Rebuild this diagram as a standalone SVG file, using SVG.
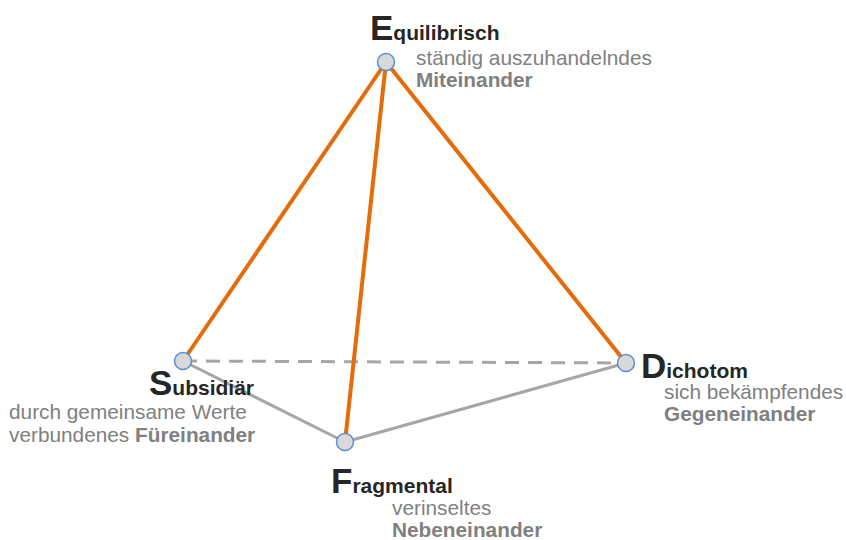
<svg xmlns="http://www.w3.org/2000/svg" width="846" height="540" viewBox="0 0 846 540">
<style>
text{font-family:"Liberation Sans",Arial,sans-serif}
.t{font-weight:bold;fill:#262626;font-size:21px}
.big{font-size:35px}
.d{fill:#808080;font-size:20.8px}
.b{font-weight:bold}
.o{stroke:#e46c0a;stroke-width:4;fill:none;stroke-linecap:round}
.g{stroke:#a6a6a6;stroke-width:3;fill:none}
.n{fill:#d9d9d9;stroke:#5b8ed0;stroke-width:1.5}
</style>
<rect width="846" height="540" fill="#ffffff"/>
<g id="connectors">
<line class="g" x1="183" y1="361" x2="626" y2="363" stroke-dasharray="14,9"/>
<line class="g" x1="183" y1="361" x2="345" y2="442"/>
<line class="g" x1="345" y1="442" x2="626" y2="363"/>
<line class="o" x1="386" y1="62" x2="183" y2="361"/>
<line class="o" x1="386" y1="62" x2="345" y2="442"/>
<line class="o" x1="386" y1="62" x2="626" y2="363"/>
</g>
<g id="node-E">
<circle class="n" cx="386" cy="62" r="8.5"/>
<text class="t" x="370" y="40"><tspan class="big">E</tspan>quilibrisch</text>
<text class="d" x="416" y="65">ständig auszuhandelndes</text>
<text class="d b" x="416" y="87">Miteinander</text>
</g>
<g id="node-S">
<circle class="n" cx="183" cy="361" r="8.5"/>
<text class="t" x="149" y="395"><tspan class="big">S</tspan>ubsidiär</text>
<text class="d" x="9" y="419">durch gemeinsame Werte</text>
<text class="d" x="9" y="442">verbundenes <tspan class="b">Füreinander</tspan></text>
</g>
<g id="node-D">
<circle class="n" cx="626" cy="363" r="8.5"/>
<text class="t" x="641" y="378"><tspan class="big">D</tspan>ichotom</text>
<text class="d" x="664" y="399">sich bekämpfendes</text>
<text class="d b" x="664" y="421">Gegeneinander</text>
</g>
<g id="node-F">
<circle class="n" cx="345" cy="442" r="8.5"/>
<text class="t" x="331" y="493"><tspan class="big">F</tspan>ragmental</text>
<text class="d" x="392" y="515">verinseltes</text>
<text class="d b" x="392" y="537">Nebeneinander</text>
</g>
</svg>
